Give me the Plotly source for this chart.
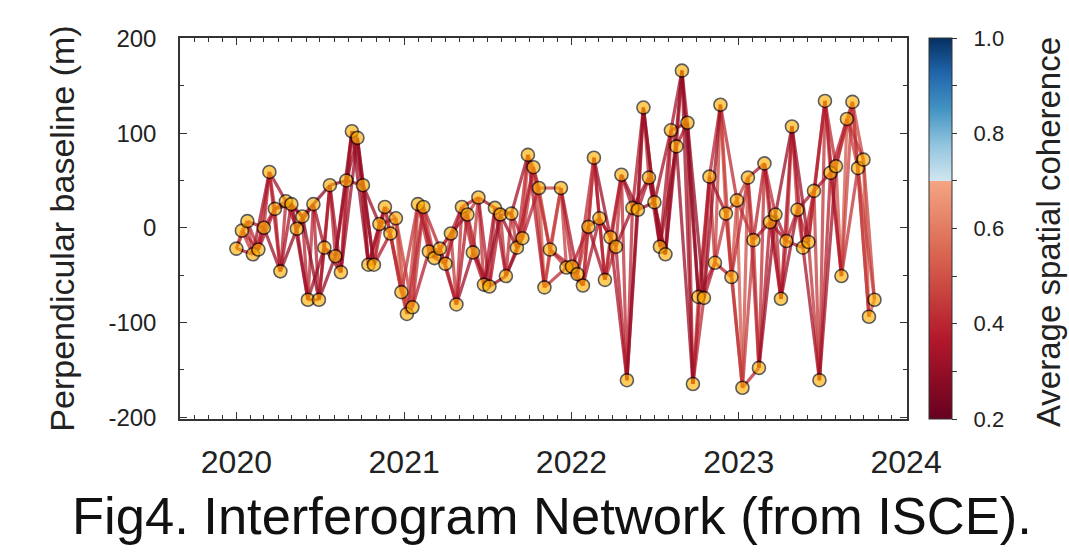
import pandas as pd
import plotly.graph_objects as go
from plotly.colors import sample_colorscale

# ---------------- data ----------------
# acquisition day offsets from 2020-01-01 (12-day repeat, one missing acquisition late 2021)
day_offset = [0, 12, 24, 36, 48, 60, 72, 84, 96, 108,
              120, 132, 144, 156, 168, 180, 192, 204, 216, 228,
              240, 252, 264, 276, 288, 300, 312, 324, 336, 348,
              360, 372, 384, 396, 408, 420, 432, 444, 456, 468,
              480, 492, 504, 516, 528, 540, 552, 564, 576, 588,
              600, 612, 624, 636, 648, 660, 672, 684, 708, 720,
              732, 744, 756, 768, 780, 792, 804, 816, 828, 840,
              852, 864, 876, 888, 900, 912, 924, 936, 948, 960,
              972, 984, 996, 1008, 1020, 1032, 1044, 1056, 1068, 1080,
              1092, 1104, 1116, 1128, 1140, 1152, 1164, 1176, 1188, 1200,
              1212, 1224, 1236, 1248, 1260, 1272, 1284, 1296, 1308, 1320,
              1332, 1344, 1356, 1368, 1380, 1392]

bperp = [-22, -3, 7, -28, -23, 0, 59, 20, -46, 28,
         25, -1, 12, -76, 25, -76, -21, 45, -30, -47,
         50, 102, 95, 45, -39, -39, 4, 22, -6, 10,
         -68, -91, -84, 25, 22, -25, -32, -22, -38, -6,
         -81, 22, 14, -26, 32, -60, -62, 21, 14, -51,
         15, -21, -11, 77, 64, 42, -63, -23, 42, -42,
         -41, -49, -61, 1, 74, 10, -55, -10, -20, 56,
         -161, 21, 19, 127, 53, 27, -20, -28, 103, 86,
         166, 111, -165, -73, -74, 54, -37, 130, 15, -52,
         29, -169, 53, -13, -148, 68, 6, 14, -75, -14,
         107, 19, -21, -15, 39, -161, 134, 58, 65, -51,
         115, 133, 63, 72, -94, -76]

# average spatial coherence of pairs (k, k+1), (k, k+2), (k, k+3)
coh_1 = [0.48, 0.50, 0.46, 0.44, 0.46, 0.42, 0.43, 0.41, 0.40, 0.43,
         0.42, 0.40, 0.39, 0.41, 0.38, 0.40, 0.41, 0.39, 0.40, 0.42,
         0.38, 0.41, 0.39, 0.42, 0.44, 0.46, 0.48, 0.51, 0.53, 0.55,
         0.53, 0.50, 0.48, 0.46, 0.49, 0.52, 0.50, 0.48, 0.46, 0.44,
         0.42, 0.46, 0.48, 0.44, 0.43, 0.41, 0.42, 0.40, 0.42, 0.41,
         0.43, 0.46, 0.49, 0.48, 0.51, 0.53, 0.50, 0.48, 0.46, 0.44,
         0.48, 0.50, 0.46, 0.44, 0.42, 0.46, 0.48, 0.45, 0.43, 0.41,
         0.40, 0.42, 0.41, 0.40, 0.42, 0.43, 0.41, 0.40, 0.39, 0.41,
         0.38, 0.40, 0.46, 0.48, 0.42, 0.44, 0.48, 0.50, 0.53, 0.50,
         0.52, 0.49, 0.46, 0.44, 0.42, 0.46, 0.43, 0.41, 0.42, 0.44,
         0.42, 0.46, 0.44, 0.48, 0.45, 0.43, 0.46, 0.48, 0.50, 0.52,
         0.51, 0.53, 0.55, 0.52, 0.50]
coh_2 = [0.42, 0.44, 0.41, 0.39, 0.40, 0.37, 0.38, 0.36, 0.35, 0.38,
         0.37, 0.35, 0.34, 0.36, 0.33, 0.35, 0.36, 0.34, 0.35, 0.37,
         0.33, 0.36, 0.34, 0.37, 0.39, 0.41, 0.43, 0.46, 0.48, 0.50,
         0.48, 0.46, 0.43, 0.41, 0.45, 0.47, 0.46, 0.43, 0.41, 0.39,
         0.37, 0.41, 0.43, 0.39, 0.38, 0.36, 0.37, 0.35, 0.37, 0.36,
         0.38, 0.41, 0.45, 0.43, 0.46, 0.48, 0.46, 0.43, 0.41, 0.39,
         0.43, 0.46, 0.41, 0.39, 0.37, 0.41, 0.43, 0.40, 0.38, 0.36,
         0.35, 0.37, 0.36, 0.35, 0.37, 0.38, 0.36, 0.35, 0.34, 0.36,
         0.33, 0.35, 0.41, 0.43, 0.37, 0.39, 0.43, 0.46, 0.48, 0.46,
         0.47, 0.45, 0.41, 0.39, 0.37, 0.41, 0.38, 0.36, 0.37, 0.39,
         0.37, 0.41, 0.39, 0.43, 0.40, 0.38, 0.41, 0.43, 0.46, 0.47,
         0.46, 0.48, 0.50, 0.47]
coh_3 = [0.37, 0.39, 0.36, 0.34, 0.35, 0.32, 0.33, 0.31, 0.30, 0.33,
         0.32, 0.30, 0.29, 0.31, 0.28, 0.30, 0.31, 0.29, 0.30, 0.32,
         0.28, 0.31, 0.29, 0.32, 0.34, 0.36, 0.38, 0.42, 0.44, 0.46,
         0.44, 0.41, 0.38, 0.36, 0.40, 0.43, 0.41, 0.38, 0.36, 0.34,
         0.32, 0.36, 0.38, 0.34, 0.33, 0.31, 0.32, 0.30, 0.32, 0.31,
         0.33, 0.36, 0.40, 0.38, 0.42, 0.44, 0.41, 0.38, 0.36, 0.34,
         0.38, 0.41, 0.36, 0.34, 0.32, 0.36, 0.38, 0.35, 0.33, 0.31,
         0.30, 0.32, 0.31, 0.30, 0.32, 0.33, 0.31, 0.30, 0.29, 0.31,
         0.28, 0.30, 0.36, 0.38, 0.32, 0.34, 0.38, 0.41, 0.44, 0.41,
         0.43, 0.40, 0.36, 0.34, 0.32, 0.36, 0.33, 0.31, 0.32, 0.34,
         0.32, 0.36, 0.34, 0.38, 0.35, 0.33, 0.36, 0.38, 0.41, 0.43,
         0.42, 0.44, 0.46]

y_tick_vals = [-200, -100, 0, 100, 200]
y_tick_text = ["-200", "-100", "0", "100", "200"]
cbar_tick_vals = [0.2, 0.3, 0.4, 0.5, 0.6, 0.7, 0.8, 0.9, 1.0]
cbar_tick_text = ["0.2", "", "0.4", "", "0.6", "", "0.8", "", "1.0"]
cmin, cmax = 0.2, 1.0

# ---------------- figure ----------------
dates = pd.to_datetime("2020-01-01") + pd.to_timedelta(day_offset, unit="D")

# truncated RdBu split at the coherence threshold 0.7
colorscale = [
    [0.0, "#67001f"], [0.2083, "#b2182b"], [0.4167, "#d6604d"], [0.6249, "#f4a582"],
    [0.625, "#d1e5f0"], [0.7188, "#92c5de"], [0.8125, "#4393c3"], [0.9063, "#2166ac"],
    [1.0, "#053061"],
]

groups = {}
for step, cl in ((1, coh_1), (2, coh_2), (3, coh_3)):
    for k, c in enumerate(cl):
        j = k + step
        if j >= len(dates):
            continue
        key = round(c, 2)
        g = groups.setdefault(key, ([], []))
        g[0].extend([dates[k], dates[j], None])
        g[1].extend([bperp[k], bperp[j], None])

fig = go.Figure()
for key in sorted(groups, reverse=True):
    xs, ys = groups[key]
    col = sample_colorscale(colorscale, [(key - cmin) / (cmax - cmin)])[0]
    fig.add_trace(go.Scatter(x=xs, y=ys, mode="lines",
                             line=dict(color=col, width=3.2), opacity=0.75,
                             hoverinfo="skip", showlegend=False))

fig.add_trace(go.Scatter(
    x=dates, y=bperp, mode="markers", showlegend=False,
    marker=dict(size=13, color="#ffb000", opacity=0.64,
                line=dict(color="black", width=1.6)),
))

font_fam = "Liberation Sans, Arial, sans-serif"
NB = "\u00a0\u00a0"

# colorbar holder
fig.add_trace(go.Scatter(
    x=[dates[0]], y=[bperp[0]], mode="markers", showlegend=False, hoverinfo="skip",
    marker=dict(size=0.1, opacity=0, color=[cmin], cmin=cmin, cmax=cmax,
                colorscale=colorscale, showscale=True,
                colorbar=dict(
                    x=1.0166, xanchor="left", y=0.5, yanchor="middle",
                    len=1.0, lenmode="fraction", ypad=0, thickness=23,
                    outlinewidth=1, outlinecolor="#333",
                    tickvals=cbar_tick_vals,
                    ticktext=[(NB + t) if t else "" for t in cbar_tick_text],
                    ticks="outside", ticklen=5, tickcolor="#333",
                    tickfont=dict(size=22, color="#222", family=font_fam),
                )),
))

fig.update_layout(
    width=1069, height=552,
    margin=dict(l=180, r=162, t=38, b=133),
    paper_bgcolor="white", plot_bgcolor="white",
    font=dict(family=font_fam, color="#222"),
    xaxis=dict(
        type="date", range=["2019-08-31", "2024-01-03"],
        tick0="2020-01-01", dtick="M12", tickformat="%Y",
        ticks="inside", ticklen=7, tickwidth=1.2, tickcolor="#333",
        minor=dict(dtick="M1", ticks="inside", ticklen=4, tickcolor="#333", tickwidth=1),
        showline=True, linecolor="#333", linewidth=1.5, mirror="allticks",
        showgrid=False, zeroline=False,
        tickfont=dict(size=32, color="#222"), ticklabelstandoff=14,
    ),
    yaxis=dict(
        range=[-202, 200.5], tickvals=y_tick_vals, ticktext=y_tick_text,
        ticks="inside", ticklen=7, tickwidth=1.2, tickcolor="#333",
        minor=dict(dtick=50, ticks="inside", ticklen=4, tickcolor="#333", tickwidth=1),
        showline=True, linecolor="#333", linewidth=1.5, mirror="allticks",
        showgrid=False, zeroline=False,
        tickfont=dict(size=24, color="#222"), ticklabelstandoff=17,
        title=dict(text="Perpendicular baseline (m)", font=dict(size=34, color="#222"),
                   standoff=24),
    ),
    annotations=[
        dict(text="Fig4. Interferogram Network (from ISCE).", xref="paper", yref="paper",
             x=0.512, y=-0.252, xanchor="center", yanchor="middle", showarrow=False,
             font=dict(size=52.5, color="#111", family=font_fam)),
        dict(text="Average spatial coherence", xref="paper", yref="paper",
             x=1.195, y=0.49, xanchor="center", yanchor="middle", showarrow=False,
             textangle=-90, font=dict(size=33, color="#222", family=font_fam)),
    ],
)

fig.write_html("out.html", config={"displayModeBar": False},
               post_script="document.body.style.margin='0px';")
